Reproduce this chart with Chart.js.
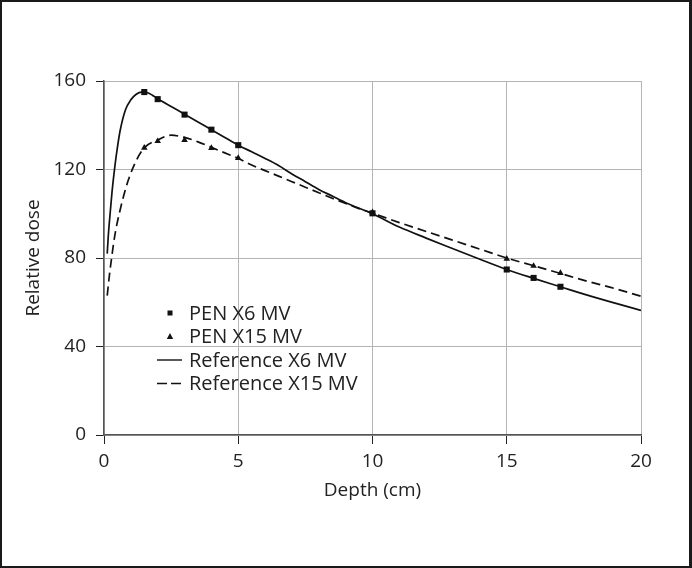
<!DOCTYPE html>
<html><head><meta charset="utf-8">
<script src="https://cdn.jsdelivr.net/npm/chart.js@4.4.1/dist/chart.umd.min.js"></script>
<style>html,body{margin:0;padding:0;background:#fff}#wrap{width:692px;height:568px;position:relative}</style>
</head><body><div id="wrap"><canvas id="c" width="692" height="568"></canvas></div>
<script>
// ---- data ----
const penDepth = [1.5, 2, 3, 4, 5, 10, 15, 16, 17];
const penX6 = [155, 151.8, 144.8, 138, 131, 100.2, 74.8, 71, 67];
const penX15 = [129.8, 132.8, 133.3, 129.7, 125.2, 100.6, 79.6, 76.4, 73.2];

const ref6Depth = [0.12, 0.16, 0.22, 0.3, 0.4, 0.5, 0.6, 0.8, 1.0, 1.2, 1.4, 1.6, 1.8, 2.0, 2.5, 3, 3.5, 4, 4.5, 5, 5.5, 6, 6.5, 7, 7.5, 8, 8.5, 9, 9.5, 10, 11, 12, 13, 14, 15, 16, 17, 18, 19, 20];
const ref6Dose = [82, 90, 99, 110, 121, 130, 137.5, 147, 151.5, 154, 155, 154.8, 153.6, 152, 148.5, 145, 141.5, 138, 134.5, 131, 128, 125, 121.8, 118, 114.5, 111, 108, 105, 102.5, 100, 94, 89, 84.2, 79.4, 74.8, 70.8, 67, 63.2, 59.7, 56.3];

const ref15Depth = [0.12, 0.2, 0.29, 0.4, 0.6, 0.9, 1.2, 1.5, 2.0, 2.5, 3.0, 3.5, 4, 4.5, 5, 5.5, 6, 6.5, 7, 7.5, 8, 8.5, 9, 9.5, 10, 11, 12, 13, 14, 15, 16, 17, 18, 19, 20];
const ref15Dose = [63, 72, 80.6, 90, 101.7, 115, 124, 129.8, 133.3, 135.5, 134.5, 132.5, 130, 127.5, 125, 122, 119.5, 117, 114.5, 112, 109.5, 107, 104.7, 102.3, 100.3, 96, 92, 88, 84, 80, 76.5, 73, 69.5, 66.3, 62.7];

const xTicks = [0, 5, 10, 15, 20];
const yTicks = [0, 40, 80, 120, 160];
const seriesLabels = ['PEN X6 MV', 'PEN X15 MV', 'Reference X6 MV', 'Reference X15 MV'];
const xTitle = 'Depth (cm)';
const yTitle = 'Relative dose';

const pts = (xs, ys) => xs.map((x, i) => ({x: x, y: ys[i]}));
const FONT = "'Open Sans', 'Noto Sans', sans-serif";
const TXT = '#222';

const framePlugin = {
  id: 'frame',
  afterDraw(chart) {
    const ctx = chart.ctx, w = chart.width, h = chart.height;
    ctx.save();
    ctx.fillStyle = '#1a1a1a';
    ctx.fillRect(0, 0, w, 2);
    ctx.fillRect(0, 0, 2, h);
    ctx.fillRect(w - 3, 0, 3, h);
    ctx.fillRect(0, h - 2, w, 2);
    ctx.restore();
  }
};

const legendPlugin = {
  id: 'insideLegend',
  afterDraw(chart) {
    const ctx = chart.ctx, a = chart.chartArea;
    const x0 = a.left + 66, tx = a.left + 85, y0 = a.top + 232, dy = 23.5;
    ctx.save();
    ctx.strokeStyle = '#111';
    ctx.font = "20px " + FONT;
    ctx.textBaseline = 'middle';
    seriesLabels.forEach((lab, i) => {
      const y = y0 + i * dy;
      ctx.fillStyle = '#111';
      if (i === 0) { ctx.fillRect(x0 - 2.5, y - 2.5, 5, 5); }
      else if (i === 1) { ctx.beginPath(); ctx.moveTo(x0, y - 3.5); ctx.lineTo(x0 + 3.2, y + 2.5); ctx.lineTo(x0 - 3.2, y + 2.5); ctx.closePath(); ctx.fill(); }
      else {
        ctx.lineWidth = 1.4;
        ctx.setLineDash(i === 3 ? [10, 4] : []);
        ctx.beginPath(); ctx.moveTo(a.left + 53, y); ctx.lineTo(a.left + 78, y); ctx.stroke();
        ctx.setLineDash([]);
      }
      ctx.fillStyle = TXT;
      ctx.fillText(lab, tx, y + 1);
    });
    ctx.restore();
  }
};

new Chart(document.getElementById('c'), {
  type: 'line',
  data: {
    datasets: [
      { label: seriesLabels[0], data: pts(penDepth, penX6), showLine: false, pointStyle: 'rect', pointRadius: 4.3, pointBackgroundColor: '#111', pointBorderColor: '#111', borderWidth: 0, order: 0 },
      { label: seriesLabels[1], data: pts(penDepth, penX15), showLine: false, pointStyle: 'triangle', pointRadius: 3.8, pointBackgroundColor: '#111', pointBorderColor: '#111', borderWidth: 0, order: 0 },
      { label: seriesLabels[2], data: pts(ref6Depth, ref6Dose), borderColor: '#111', borderWidth: 1.7, pointRadius: 0, cubicInterpolationMode: 'monotone', fill: false, order: 1 },
      { label: seriesLabels[3], data: pts(ref15Depth, ref15Dose), borderColor: '#111', borderWidth: 1.7, borderDash: [9, 5], pointRadius: 0, cubicInterpolationMode: 'monotone', fill: false, order: 1 }
    ]
  },
  options: {
    responsive: false,
    animation: false,
    devicePixelRatio: 1,
    layout: { padding: { left: 0, top: 81, right: 51, bottom: 63 } },
    plugins: { legend: { display: false }, tooltip: { enabled: false } },
    scales: {
      x: {
        type: 'linear', min: 0, max: 20,
        afterBuildTicks(s) { s.ticks = xTicks.map(v => ({value: v})); },
        afterFit(s) { s.height = 70; },
        grid: { color: '#b4b4b4', lineWidth: 1, tickColor: '#222', tickLength: 9 },
        border: { color: '#555', width: 1.5 },
        ticks: { color: TXT, font: { family: FONT, size: 19 }, padding: 6, maxRotation: 0 },
        title: { display: true, text: xTitle, color: TXT, font: { family: FONT, size: 19 }, padding: { top: 0, bottom: 3 } }
      },
      y: {
        type: 'linear', min: 0, max: 160,
        afterBuildTicks(s) { s.ticks = yTicks.map(v => ({value: v})); },
        afterFit(s) { s.width = 104; },
        grid: { color: '#b4b4b4', lineWidth: 1, tickColor: '#222', tickLength: 8 },
        border: { color: '#555', width: 1.5 },
        ticks: { color: TXT, font: { family: FONT, size: 19 }, padding: 10 },
        title: { display: true, text: yTitle, color: TXT, font: { family: FONT, size: 19 }, padding: { top: 22, bottom: 0 } }
      }
    }
  },
  plugins: [framePlugin, legendPlugin]
});
</script></body></html>
